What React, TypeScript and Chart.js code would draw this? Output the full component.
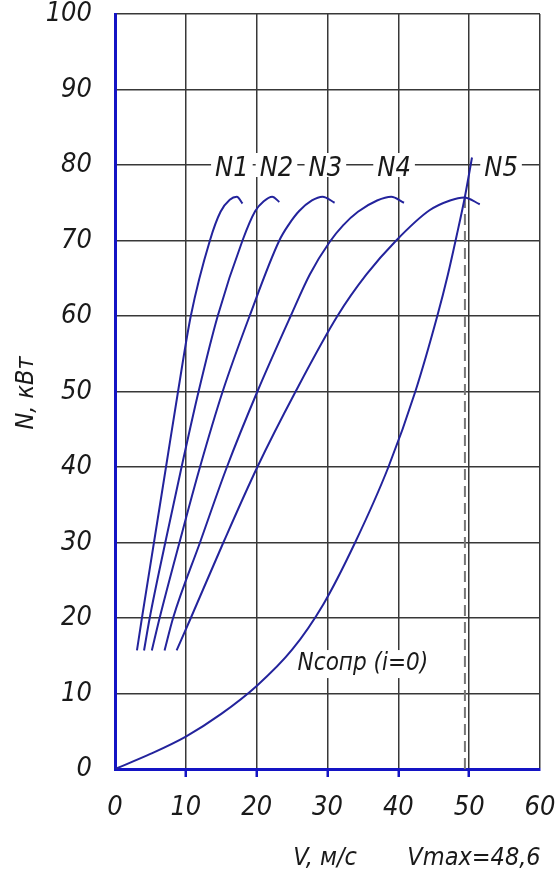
import React, { useEffect, useRef } from "react";
import { Chart, registerables } from "chart.js";

Chart.register(...registerables);

// ---- data ----
const xTickStep = 10;
const xMin = 0;
const xMax = 60;
const yTickStep = 10;
const yMin = 0;
const yMax = 100;

const n1V = [3.1, 3.8, 5.5, 7.2, 8.9, 10.7, 13.4, 14.9, 16.2, 17.2, 18.0];
const n1N = [15.7, 20, 30, 40, 50, 60, 70, 73.8, 75.4, 75.8, 74.9];

const n2V = [4.1, 4.9, 7.1, 9.4, 11.8, 14.5, 18.0, 19.8, 21.0, 22.2, 23.2];
const n2N = [15.7, 20, 30, 40, 50, 60, 70, 73.9, 75.2, 75.8, 75.1];

const n3V = [5.2, 6.3, 9.1, 12.0, 15.2, 19.0, 23.2, 24.6, 26.0, 27.8, 29.3, 31.0];
const n3N = [15.7, 20, 30, 40, 50, 60, 70, 72.2, 73.9, 75.3, 75.8, 75.0];

const n4V = [7.0, 8.2, 12.0, 15.8, 20.1, 24.8, 27.5, 30.3, 32.2, 34.3, 37.0, 39.0, 40.8];
const n4N = [15.7, 20, 30, 40, 50, 60, 65.5, 69.8, 72.0, 73.8, 75.3, 75.8, 75.0];

const n5V = [8.7, 10.7, 15.3, 20.1, 25.5, 31.4, 35.5, 39.7, 44.4, 47.3, 49.3, 51.5];
const n5N = [15.7, 20, 30, 40, 50, 60, 65.5, 70, 74.0, 75.3, 75.7, 74.8];

const resistV = [0, 5, 10, 15, 20, 25, 29.4, 33.9, 38.6, 42.4, 45.5, 47.0, 48.2, 49.4, 50.4];
const resistN = [0, 2.0, 4.3, 7.3, 11.0, 15.8, 21.8, 30, 40, 50, 60, 65.5, 70.5, 75.8, 81];

const vMaxMark = 49.4;
const vMaxLineN = [0, 75.6];

const curveLabels = ["N1", "N2", "N3", "N4", "N5"];
const curveLabelV = [16.5, 22.8, 29.7, 39.4, 54.5];
const curveLabelN = 80;

const resistLabel = "Nсопр (i=0)";
const resistLabelV = 35.0;
const resistLabelN = 13.9;

const yTitle = "N, кВт";
const xTitle = "V, м/с";
const vMaxText = "Vmax=48,6";

// ---- styles ----
const FONT = "'DejaVu Sans Condensed', 'Liberation Sans Narrow', 'DejaVu Sans', sans-serif";
const CURVE = "#23239c";
const AXIS = "#1414c4";
const GRID = "#383838";
const TEXT = "#1a1a1a";

const zip = (xs: number[], ys: number[]) => xs.map((v, i) => ({ x: v, y: ys[i] }));

const curve = (label: string, xs: number[], ys: number[]) => ({
  label,
  data: zip(xs, ys),
  borderColor: CURVE,
  borderWidth: 2,
  pointRadius: 0,
  cubicInterpolationMode: "monotone" as const,
  fill: false,
});

const textPlugin = {
  id: "texts",
  afterDatasetsDraw(chart: any) {
    const { ctx, scales } = chart;
    const x = scales.x;
    const y = scales.y;
    ctx.save();
    ctx.textAlign = "center";
    ctx.textBaseline = "middle";
    ctx.font = `italic 27px ${FONT}`;
    curveLabels.forEach((t, i) => {
      const px = x.getPixelForValue(curveLabelV[i]);
      const py = y.getPixelForValue(curveLabelN);
      const w = ctx.measureText(t).width;
      ctx.fillStyle = "#ffffff";
      ctx.fillRect(px - w / 2 - 4, py - 12, w + 8, 24);
      ctx.fillStyle = TEXT;
      ctx.fillText(t, px, py + 4);
    });
    ctx.font = `italic 24px ${FONT}`;
    {
      const px = x.getPixelForValue(resistLabelV);
      const py = y.getPixelForValue(resistLabelN);
      const w = ctx.measureText(resistLabel).width;
      ctx.fillStyle = "#ffffff";
      ctx.fillRect(px - w / 2 - 4, py - 14, w + 8, 28);
      ctx.fillStyle = TEXT;
      ctx.fillText(resistLabel, px, py);
    }
    // axis titles
    ctx.font = `italic 25px ${FONT}`;
    ctx.fillStyle = TEXT;
    ctx.fillText(xTitle, 325, 858);
    ctx.fillText(vMaxText, 474, 858);
    ctx.translate(26, 393);
    ctx.rotate(-Math.PI / 2);
    ctx.fillText(yTitle, 0, 0);
    ctx.restore();
  },
};

export default function App() {
  const ref = useRef<HTMLCanvasElement | null>(null);

  useEffect(() => {
    document.body.style.margin = "0";
    const canvas = ref.current;
    if (!canvas) return;
    const tickFont = { family: FONT, size: 27, style: "italic" as const, weight: "normal" as const };
    const chart = new Chart(canvas, {
      type: "line",
      data: {
        datasets: [
          curve("N1", n1V, n1N),
          curve("N2", n2V, n2N),
          curve("N3", n3V, n3N),
          curve("N4", n4V, n4N),
          curve("N5", n5V, n5N),
          curve("Nсопр", resistV, resistN),
          {
            label: "Vmax",
            data: zip([vMaxMark, vMaxMark], vMaxLineN),
            borderColor: "#777777",
            borderWidth: 2,
            borderDash: [11, 6],
            pointRadius: 0,
            tension: 0,
            fill: false,
          },
        ],
      },
      options: {
        animation: false,
        responsive: false,
        maintainAspectRatio: false,
        layout: { padding: { left: 0, right: 18, top: 14, bottom: 0 } },
        plugins: {
          legend: { display: false },
          tooltip: { enabled: false },
          title: { display: false },
        },
        scales: {
          x: {
            type: "linear",
            min: xMin,
            max: xMax,
            ticks: {
              stepSize: xTickStep,
              font: tickFont,
              color: TEXT,
              padding: 15,
              maxRotation: 0,
            },
            grid: {
              color: (c: any) => (c.tick && c.tick.value === xMin ? "rgba(0,0,0,0)" : GRID),
              lineWidth: 1.5,
              drawTicks: true,
              tickLength: 8,
              tickWidth: 2.5,
              tickColor: (c: any) =>
                c.tick && c.tick.value > xMin && c.tick.value < xMax ? AXIS : "rgba(0,0,0,0)",
            },
            border: { display: true, color: AXIS, width: 3 },
            afterFit: (s: any) => {
              s.height = 106;
              s.paddingLeft = 0;
              s.paddingRight = 0;
            },
          },
          y: {
            type: "linear",
            min: yMin,
            max: yMax,
            ticks: {
              stepSize: yTickStep,
              font: tickFont,
              color: TEXT,
              padding: 23,
            },
            grid: {
              color: (c: any) => (c.tick && c.tick.value === yMin ? "rgba(0,0,0,0)" : GRID),
              lineWidth: 1.5,
              drawTicks: false,
            },
            border: { display: true, color: AXIS, width: 3 },
            afterFit: (s: any) => {
              s.width = 115;
              s.paddingTop = 0;
              s.paddingBottom = 0;
            },
          },
        },
      },
      plugins: [textPlugin],
    });
    return () => chart.destroy();
  }, []);

  return (
    <div style={{ width: 558, height: 875, background: "#ffffff" }}>
      <canvas ref={ref} width={558} height={875} style={{ display: "block" }} />
    </div>
  );
}
